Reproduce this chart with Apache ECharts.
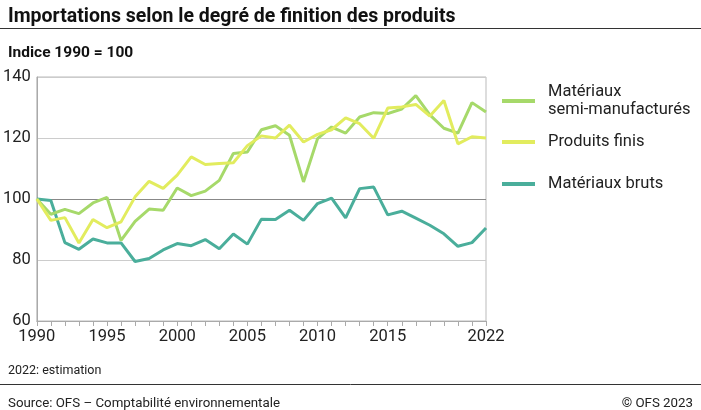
<!DOCTYPE html>
<html><head><meta charset="utf-8">
<script src="https://cdn.jsdelivr.net/npm/echarts@6/dist/echarts.min.js"></script>
<style>html,body{margin:0;padding:0;background:#fff}#c{width:701px;height:410px}</style>
</head><body><div id="c"></div>
<script>
const years = [];
for (let y = 1990; y <= 2022; y++) years.push(String(y));
const xLabels = ['1990','1995','2000','2005','2010','2015','2022'];
const yTicks = [60, 80, 100, 120, 140];
const semiManufactures = [100,95.0,96.6,95.2,98.7,100.5,86.4,92.7,96.7,96.3,103.6,101.1,102.6,106.1,114.9,115.4,122.7,124.0,120.9,105.6,119.8,123.6,121.6,126.9,128.3,128.0,129.5,133.9,127.6,123.2,121.6,131.6,128.5];
const produitsFinis = [100,93.0,93.9,85.6,93.3,90.6,92.5,100.7,105.8,103.5,107.8,113.8,111.3,111.6,111.9,117.5,120.7,120.0,124.2,118.7,121.2,122.7,126.6,124.7,119.9,129.8,130.2,131.0,127.2,132.3,118.1,120.4,120.0];
const materiauxBruts = [100,99.5,85.7,83.5,86.9,85.6,85.6,79.5,80.5,83.3,85.4,84.7,86.7,83.7,88.5,85.2,93.4,93.3,96.3,93.0,98.5,100.3,93.8,103.4,103.9,94.8,96.0,93.7,91.4,88.6,84.5,85.7,90.5];
const seriesNames = ['Matériaux\nsemi-manufacturés','Produits finis','Matériaux bruts'];
const colors = ['#a6d96a','#e2ec5e','#4aae9b'];

const chart = echarts.init(document.getElementById('c'), null, {renderer:'canvas'});
const font = 'Roboto, "Noto Sans", sans-serif';
const mkLegend = (i, top) => ({
  data:[seriesNames[i]], left: 502, top: top, orient:'vertical',
  icon:'rect', itemWidth:33, itemHeight:4, itemGap:0, padding:0,
  textStyle:{fontFamily:font, fontSize:16.5, color:'#222', lineHeight:18, padding:[0,0,0,8]},
  selectedMode:false
});
chart.setOption({
  animation:false,
  textStyle:{fontFamily:font},
  title:[
    {text:'Importations selon le degré de finition des produits', left:3, top:2,
     textStyle:{fontFamily:font, fontSize:19.5, fontWeight:'bold', color:'#111'}},
    {text:'Indice 1990 = 100', left:3, top:40,
     textStyle:{fontFamily:font, fontSize:15.5, fontWeight:'bold', color:'#111'}},
    {text:'2022: estimation', left:3, top:359,
     textStyle:{fontFamily:font, fontSize:12.5, fontWeight:'normal', color:'#222'}},
    {text:'Source: OFS – Comptabilité environnementale', left:3, top:392,
     textStyle:{fontFamily:font, fontSize:13.3, fontWeight:'normal', color:'#222'}},
    {text:'© OFS 2023', right:3, top:392,
     textStyle:{fontFamily:font, fontSize:13.3, fontWeight:'normal', color:'#222'}}
  ],
  graphic:[
    {type:'line', shape:{x1:0,y1:28.5,x2:701,y2:28.5}, style:{stroke:'#333', lineWidth:1}},
    {type:'line', shape:{x1:0,y1:384.5,x2:701,y2:384.5}, style:{stroke:'#333', lineWidth:1}}
  ],
  legend:[mkLegend(0, 83), mkLegend(1, 133), mkLegend(2, 175)],
  grid:{left:36, right:215, top:77, bottom:89, show:true, borderColor:'#bbb', borderWidth:1, containLabel:false},
  xAxis:{
    type:'category', data:years, boundaryGap:false,
    axisLine:{lineStyle:{color:'#aaa', width:1}},
    axisTick:{show:true, interval:0, length:5, lineStyle:{color:'#aaa'}},
    axisLabel:{
      interval:0, fontSize:16.5, color:'#222', margin:7,
      formatter:(v)=> xLabels.includes(v) ? v : ''
    },
    splitLine:{show:false}
  },
  yAxis:{
    type:'value', min:yTicks[0], max:yTicks[yTicks.length-1], interval:20,
    axisLine:{show:true, lineStyle:{color:'#aaa'}},
    axisTick:{show:false},
    axisLabel:{fontSize:16.5, color:'#222', margin:6},
    splitLine:{show:true, lineStyle:{color:['#ccc','#ccc','#888','#ccc','#ccc'], width:1}}
  },
  series:[
    {name:seriesNames[0], type:'line', data:semiManufactures, symbol:'none', lineStyle:{width:3, color:colors[0]}, itemStyle:{color:colors[0]}, z:3},
    {name:seriesNames[1], type:'line', data:produitsFinis, symbol:'none', lineStyle:{width:3, color:colors[1]}, itemStyle:{color:colors[1]}, z:4},
    {name:seriesNames[2], type:'line', data:materiauxBruts, symbol:'none', lineStyle:{width:3, color:colors[2]}, itemStyle:{color:colors[2]}, z:2}
  ]
});
</script></body></html>
